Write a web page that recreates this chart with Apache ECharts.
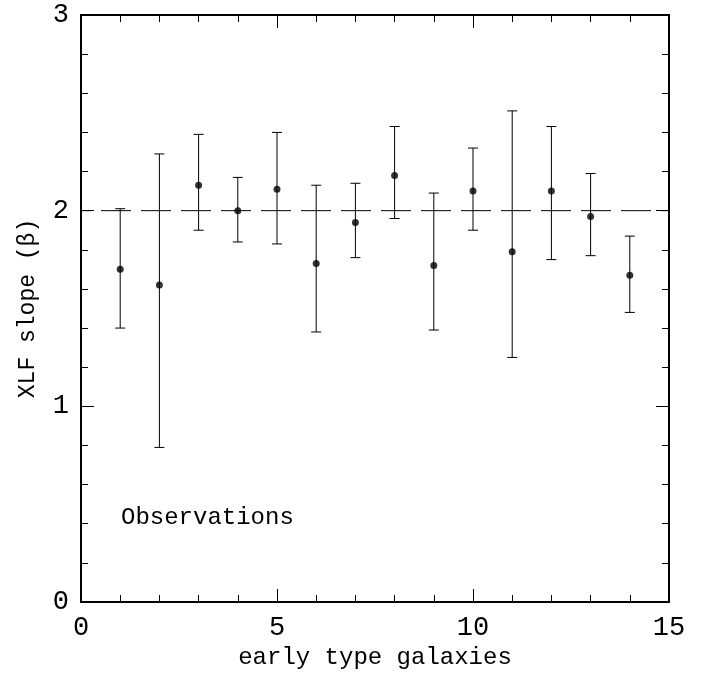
<!DOCTYPE html>
<html>
<head>
<meta charset="utf-8">
<script src="https://cdn.jsdelivr.net/npm/echarts@6/dist/echarts.min.js"></script>
<style>html,body{margin:0;padding:0;background:#fff;}#c{width:710px;height:675px;}</style>
</head>
<body>
<div id="c"></div>
<script>
// Data
const galaxyIndex = [1, 2, 3, 4, 5, 6, 7, 8, 9, 10, 11, 12, 13, 14];
const slopeValues = [1.70, 1.62, 2.13, 2.00, 2.11, 1.73, 1.94, 2.18, 1.72, 2.10, 1.79, 2.10, 1.97, 1.67];
const slopeUpper  = [2.01, 2.29, 2.39, 2.17, 2.40, 2.13, 2.14, 2.43, 2.09, 2.32, 2.51, 2.43, 2.19, 1.87];
const slopeLower  = [1.40, 0.79, 1.90, 1.84, 1.83, 1.38, 1.76, 1.96, 1.39, 1.90, 1.25, 1.75, 1.77, 1.48];
const referenceSlope = 2;
const xTicks = [0, 5, 10, 15];
const yTicks = [0, 1, 2, 3];

const FONT = 'Liberation Mono';
const chart = echarts.init(document.getElementById('c'), null, {renderer: 'canvas'});

const pts = galaxyIndex.map((x, i) => [x, slopeValues[i]]);
const errs = galaxyIndex.map((x, i) => [x, slopeLower[i], slopeUpper[i]]);

function xAxisDef(pos, show) {
  return {
    type: 'value', position: pos, min: xTicks[0], max: xTicks[xTicks.length - 1], interval: 5,
    axisLine: {show: true, onZero: false, lineStyle: {color: '#000', width: 2}},
    axisTick: {show: true, inside: true, length: 13, lineStyle: {color: '#000', width: 1}},
    minorTick: {show: true, splitNumber: 5, length: 7, lineStyle: {color: '#000', width: 1}},
    splitLine: {show: false},
    axisLabel: {show: show, color: '#000', fontFamily: FONT, fontSize: 27, margin: 12},
    name: show ? 'early type galaxies' : '', nameLocation: 'middle', nameGap: 44,
    nameTextStyle: {color: '#000', fontFamily: FONT, fontSize: 24}
  };
}
function yAxisDef(pos, show) {
  return {
    type: 'value', position: pos, min: yTicks[0], max: yTicks[yTicks.length - 1], interval: 1,
    axisLine: {show: true, onZero: false, lineStyle: {color: '#000', width: 2}},
    axisTick: {show: true, inside: true, length: 13, lineStyle: {color: '#000', width: 1}},
    minorTick: {show: true, splitNumber: 5, length: 7, lineStyle: {color: '#000', width: 1}},
    splitLine: {show: false},
    axisLabel: {show: show, color: '#000', fontFamily: FONT, fontSize: 27, margin: 12},
    name: show ? 'XLF slope (β)' : '', nameLocation: 'middle', nameGap: 42,
    nameTextStyle: {color: '#000', fontFamily: FONT, fontSize: 23}
  };
}

chart.setOption({
  animation: false,
  backgroundColor: '#fff',
  grid: {left: 81, right: 41, top: 15, bottom: 71.5},
  xAxis: [xAxisDef('bottom', true), xAxisDef('top', false)],
  yAxis: [yAxisDef('left', true), yAxisDef('right', false)],
  graphic: [{
    type: 'text', left: 121, top: 506,
    style: {text: 'Observations', fontFamily: FONT, fontSize: 24, fill: '#000'}
  }],
  series: [
    {
      type: 'line', xAxisIndex: 0, yAxisIndex: 0, symbol: 'none', silent: true,
      data: [[xTicks[0], referenceSlope], [xTicks[xTicks.length - 1], referenceSlope]],
      lineStyle: {color: '#000', width: 1, type: [30, 10], dashOffset: 20}
    },
    {
      type: 'custom', xAxisIndex: 0, yAxisIndex: 0, silent: true,
      data: errs,
      renderItem: function (params, api) {
        const top = api.coord([api.value(0), api.value(2)]);
        const bot = api.coord([api.value(0), api.value(1)]);
        const hw = 5;
        const st = {stroke: '#000', lineWidth: 1};
        return {type: 'group', children: [
          {type: 'line', shape: {x1: top[0], y1: top[1], x2: bot[0], y2: bot[1]}, style: st},
          {type: 'line', shape: {x1: top[0] - hw, y1: top[1], x2: top[0] + hw, y2: top[1]}, style: st},
          {type: 'line', shape: {x1: bot[0] - hw, y1: bot[1], x2: bot[0] + hw, y2: bot[1]}, style: st}
        ]};
      }
    },
    {
      type: 'scatter', xAxisIndex: 0, yAxisIndex: 0, data: pts,
      symbol: 'circle', symbolSize: 7, itemStyle: {color: '#000'}
    }
  ]
});
</script>
</body>
</html>
